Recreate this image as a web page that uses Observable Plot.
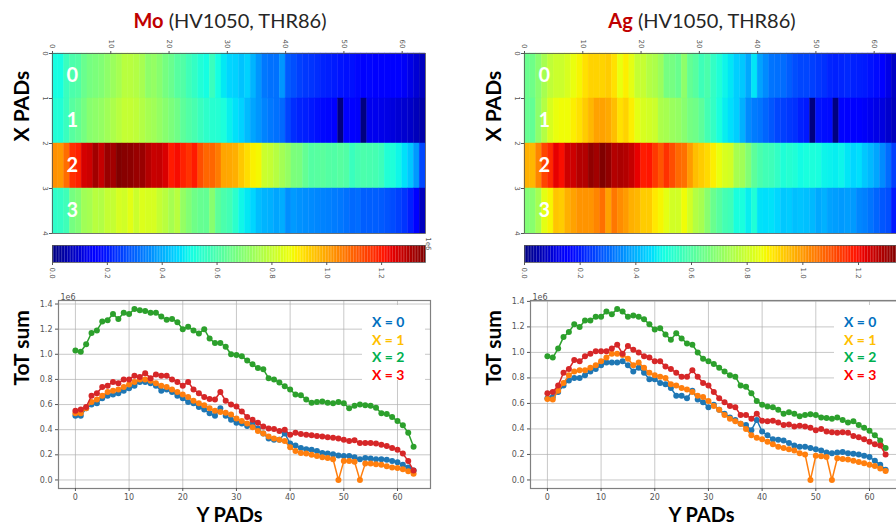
<!DOCTYPE html>
<html><head><meta charset="utf-8">
<script src="https://cdn.jsdelivr.net/npm/d3@7"></script>
<script src="https://cdn.jsdelivr.net/npm/@observablehq/plot@0.6"></script>
<style>
body{margin:0;background:#fff;font-family:Lato,"Open Sans",sans-serif;}
#root{position:relative;width:896px;height:532px;overflow:hidden;background:#fff;}
.abs{position:absolute;}
.title{font-size:20px;color:#262626;white-space:nowrap;transform:translateX(-50%);line-height:24px;}
.title b{color:#c00000;}
.legend{background:#fff;font-weight:bold;font-size:14px;line-height:17.7px;padding:8px 0 0 10px;box-sizing:border-box;}
svg{overflow:visible;}
</style></head>
<body><div id="root"></div>
<script>
// ---------- data ----------
const yPads = d3.range(64);           // Y PAD index (columns)
const xPads = [0, 1, 2, 3];           // X PAD index (rows)
const seriesLabels = ["X = 0", "X = 1", "X = 2", "X = 3"];
const lineColors = ["#1f77b4", "#ff7f0e", "#2ca02c", "#d62728"];
const legendColors = ["#0070c0", "#ffc000", "#00b050", "#ff0000"];
const yPadTicks = [0, 10, 20, 30, 40, 50, 60];
const xPadTicks = [0, 1, 2, 3, 4];
const colorbarTicks = [0, 0.2, 0.4, 0.6, 0.8, 1.0, 1.2];
const totTicks = [0, 0.2, 0.4, 0.6, 0.8, 1.0, 1.2, 1.4];

// ToT sum (units of 1e6) — Mo
const moX0 = [0.51,0.51,0.57,0.60,0.61,0.65,0.67,0.68,0.69,0.71,0.73,0.75,0.78,0.78,0.77,0.75,0.71,0.72,0.70,0.67,0.65,0.62,0.61,0.58,0.56,0.53,0.51,0.57,0.51,0.48,0.455,0.45,0.43,0.45,0.41,0.37,0.33,0.32,0.32,0.37,0.29,0.275,0.255,0.245,0.24,0.23,0.215,0.21,0.205,0.195,0.19,0.19,0.18,0.165,0.175,0.17,0.165,0.165,0.16,0.15,0.14,0.12,0.10,0.075];
const moX1 = [0.53,0.53,0.57,0.62,0.64,0.67,0.70,0.71,0.72,0.74,0.76,0.78,0.80,0.80,0.79,0.77,0.75,0.74,0.72,0.70,0.68,0.66,0.63,0.61,0.595,0.57,0.55,0.54,0.535,0.52,0.49,0.47,0.45,0.42,0.39,0.37,0.345,0.33,0.32,0.31,0.26,0.23,0.215,0.21,0.20,0.19,0.18,0.175,0.165,0.0,0.15,0.15,0.145,0.0,0.13,0.13,0.125,0.12,0.11,0.10,0.095,0.085,0.07,0.05];
const moX2 = [1.03,1.02,1.08,1.17,1.19,1.26,1.27,1.32,1.28,1.33,1.32,1.36,1.35,1.345,1.33,1.33,1.30,1.275,1.28,1.255,1.20,1.22,1.19,1.165,1.20,1.125,1.09,1.09,1.06,1.00,0.995,0.985,0.95,0.92,0.89,0.88,0.81,0.80,0.775,0.745,0.72,0.68,0.675,0.64,0.615,0.62,0.625,0.615,0.61,0.62,0.61,0.57,0.59,0.60,0.595,0.59,0.575,0.53,0.525,0.50,0.47,0.435,0.375,0.265];
const moX3 = [0.55,0.56,0.58,0.67,0.69,0.74,0.75,0.78,0.77,0.80,0.80,0.83,0.82,0.85,0.81,0.84,0.83,0.83,0.80,0.78,0.75,0.78,0.72,0.69,0.66,0.645,0.64,0.70,0.63,0.60,0.585,0.545,0.50,0.48,0.455,0.425,0.41,0.405,0.39,0.40,0.36,0.375,0.365,0.36,0.355,0.35,0.345,0.34,0.335,0.33,0.32,0.31,0.315,0.295,0.295,0.295,0.29,0.28,0.27,0.255,0.24,0.21,0.15,0.075];

// ToT sum (units of 1e6) — Ag
const agX0 = [0.64,0.65,0.69,0.74,0.78,0.80,0.80,0.82,0.85,0.87,0.90,0.92,0.92,0.92,0.93,0.90,0.85,0.88,0.84,0.79,0.79,0.76,0.75,0.72,0.66,0.66,0.64,0.70,0.63,0.61,0.57,0.59,0.55,0.52,0.49,0.47,0.44,0.43,0.39,0.47,0.38,0.35,0.32,0.315,0.31,0.29,0.27,0.26,0.26,0.25,0.24,0.23,0.215,0.21,0.215,0.22,0.21,0.205,0.20,0.19,0.18,0.15,0.12,0.08];
const agX1 = [0.635,0.63,0.70,0.76,0.82,0.85,0.86,0.86,0.88,0.90,0.93,0.96,0.99,0.99,0.98,0.95,0.90,0.92,0.88,0.84,0.82,0.81,0.80,0.75,0.74,0.72,0.71,0.69,0.66,0.65,0.62,0.58,0.55,0.51,0.48,0.46,0.44,0.40,0.35,0.33,0.32,0.30,0.28,0.26,0.25,0.24,0.23,0.21,0.20,0.0,0.19,0.185,0.18,0.0,0.17,0.165,0.16,0.15,0.14,0.13,0.12,0.11,0.09,0.07];
const agX2 = [0.97,0.96,1.03,1.12,1.16,1.22,1.20,1.25,1.25,1.28,1.28,1.32,1.30,1.34,1.32,1.28,1.29,1.28,1.26,1.22,1.18,1.19,1.14,1.10,1.15,1.11,1.07,1.06,1.00,0.95,0.93,0.91,0.88,0.85,0.82,0.81,0.74,0.73,0.68,0.62,0.59,0.575,0.57,0.55,0.52,0.53,0.52,0.50,0.51,0.515,0.51,0.49,0.485,0.48,0.49,0.47,0.45,0.46,0.43,0.41,0.385,0.35,0.31,0.25];
const agX3 = [0.68,0.69,0.74,0.84,0.87,0.94,0.93,0.97,0.99,1.01,1.01,1.01,1.03,1.06,0.99,1.05,1.02,1.00,0.97,0.96,0.93,0.93,0.89,0.87,0.84,0.81,0.81,0.86,0.81,0.76,0.74,0.69,0.64,0.61,0.58,0.57,0.51,0.51,0.48,0.52,0.465,0.46,0.465,0.45,0.43,0.435,0.42,0.425,0.42,0.41,0.39,0.40,0.38,0.375,0.37,0.375,0.37,0.345,0.335,0.32,0.30,0.28,0.27,0.20];

const panels = [
  {name: "Mo", rest: " (HV1050, THR86)", ox: 0, series: [moX0, moX1, moX2, moX3], cbExp: true},
  {name: "Ag", rest: " (HV1050, THR86)", ox: 472, series: [agX0, agX1, agX2, agX3], cbExp: false}
];

// ---------- jet colormap ----------
function jet(t) {
  t = Math.max(0, Math.min(1, t));
  const seg = (pts) => {
    for (let i = 1; i < pts.length; i++) {
      if (t <= pts[i][0]) {
        const [x0, y0] = pts[i - 1], [x1, y1] = pts[i];
        return y0 + (y1 - y0) * (t - x0) / (x1 - x0);
      }
    }
    return pts[pts.length - 1][1];
  };
  const r = seg([[0,0],[0.35,0],[0.66,1],[0.89,1],[1,0.5]]);
  const g = seg([[0,0],[0.125,0],[0.375,1],[0.64,1],[0.91,0],[1,0]]);
  const b = seg([[0,0.5],[0.11,1],[0.34,1],[0.65,0],[1,0]]);
  return `rgb(${Math.round(r*255)},${Math.round(g*255)},${Math.round(b*255)})`;
}

const root = document.getElementById("root");
function place(el, left, top) {
  el.classList.add("abs");
  el.style.left = left + "px";
  el.style.top = top + "px";
  root.appendChild(el);
  return el;
}
const tickFont = "'DejaVu Sans', sans-serif";

for (const p of panels) {
  const cells = [];
  p.series.forEach((vals, xi) => vals.forEach((v, i) => cells.push({xi, yi: yPads[i], v})));
  const vmax = d3.max(cells, d => d.v);
  const vmin = d3.min(cells, d => d.v);
  const colorOpt = {type: "linear", domain: [vmin, vmax], interpolate: jet};

  // title
  const t = document.createElement("div");
  t.className = "title";
  t.innerHTML = `<b>${p.name}</b>${p.rest}`;
  place(t, p.ox + 230, 8);

  // heatmap
  const heat = Plot.plot({
    width: 448, height: 240,
    marginLeft: 52, marginRight: 23, marginTop: 53, marginBottom: 7,
    style: {fontFamily: tickFont, background: "transparent"},
    x: {domain: [0, 64], label: null},
    y: {domain: [0, 4], reverse: true, label: null},
    color: colorOpt,
    marks: [
      Plot.rect(cells, {x1: d => d.yi, x2: d => d.yi + 1, y1: d => d.xi, y2: d => d.xi + 1,
        fill: "v", stroke: "v", strokeWidth: 0.4}),
      Plot.frame({stroke: "#555", strokeWidth: 0.8}),
      Plot.axisX({anchor: "top", ticks: yPadTicks, tickFormat: d3.format("d"), tickRotate: 90, fontSize: 7, tickSize: 3, tickPadding: 2, fill: "#555", stroke: "#555", label: null}),
      Plot.axisY({anchor: "left", ticks: xPadTicks, tickFormat: d3.format("d"), tickRotate: 90, fontSize: 7, tickSize: 3, tickPadding: 2, fill: "#555", stroke: "#555", label: null}),
      Plot.text(xPads, {frameAnchor: "left", y: d => d + 0.5, text: d => String(d), dx: 14,
        fill: "white", fontSize: 20, fontWeight: "bold", fontFamily: "Lato, sans-serif"}),
      Plot.text(["X PADs"], {frameAnchor: "left", dx: -30, dy: -2, rotate: -90, fontSize: 21,
        fontWeight: "bold", fill: "#000", fontFamily: "Lato, sans-serif"})
    ]
  });
  place(heat, p.ox, 0);

  // colorbar
  const nStops = 240;
  const stops = d3.range(nStops).map(i => vmin + (vmax - vmin) * i / nStops);
  const step = (vmax - vmin) / nStops;
  const cbMarks = [
    Plot.rect(stops, {x1: d => d, x2: d => d + step * 1.05, fill: d => d + step / 2}),
    Plot.frame({stroke: "#555", strokeWidth: 0.8}),
    Plot.axisX({ticks: colorbarTicks, tickFormat: d3.format(".1f"), tickRotate: 90, fontSize: 7,
      tickSize: 3, tickPadding: 2, fill: "#555", stroke: "#555", label: null})
  ];
  if (p.cbExp) cbMarks.push(Plot.text(["1e6"], {frameAnchor: "top-right", dx: 5, dy: 5, rotate: 90, fontSize: 7, fill: "#555"}));
  const cbar = Plot.plot({
    width: 448, height: 45,
    marginLeft: 52, marginRight: 23, marginTop: 5, marginBottom: 23,
    style: {fontFamily: tickFont, background: "transparent"},
    x: {domain: [vmin, vmax], label: null},
    color: colorOpt,
    marks: cbMarks
  });
  place(cbar, p.ox, 240);

  // line chart
  const yMax = d3.max(cells, d => d.v), yMin = d3.min(cells, d => d.v);
  const yPadM = (yMax - yMin) * 0.05;
  const xPadM = (yPads[yPads.length - 1] - yPads[0]) * 0.05;
  const marks = [
    Plot.gridX({ticks: yPadTicks, stroke: "#b0b0b0", strokeOpacity: 0.7}),
    Plot.gridY({ticks: totTicks, stroke: "#b0b0b0", strokeOpacity: 0.7}),
    Plot.frame({stroke: "#808080", strokeWidth: 1.2}),
    Plot.axisX({ticks: yPadTicks, fontSize: 8, tickSize: 3, tickPadding: 3, fill: "#555", stroke: "#555", label: null}),
    Plot.axisY({ticks: totTicks, tickFormat: d3.format(".1f"), fontSize: 8, tickSize: 3, tickPadding: 3, fill: "#555", stroke: "#555", label: null}),
    Plot.text(["1e6"], {frameAnchor: "top-left", dx: 2, dy: -6, fontSize: 8, fill: "#555"}),
    Plot.text(["ToT sum"], {frameAnchor: "left", dx: -36, dy: -9, rotate: -90, fontSize: 21,
      fontWeight: "bold", fill: "#000", fontFamily: "Lato, sans-serif"}),
    Plot.text(["Y PADs"], {frameAnchor: "bottom", dx: -15, dy: 33, fontSize: 20,
      fontWeight: "bold", fill: "#000", fontFamily: "Lato, sans-serif"})
  ];
  p.series.forEach((vals, k) => {
    const pts = vals.map((v, i) => ({y: yPads[i], v}));
    marks.push(Plot.line(pts, {x: "y", y: "v", stroke: lineColors[k], strokeWidth: 1.5}));
    marks.push(Plot.dot(pts, {x: "y", y: "v", fill: lineColors[k], r: 3, stroke: "none"}));
  });
  const line = Plot.plot({
    width: 448, height: 247,
    marginLeft: 58, marginRight: 18, marginTop: 15, marginBottom: 44,
    style: {fontFamily: tickFont, background: "transparent"},
    x: {domain: [yPads[0] - xPadM, yPads[yPads.length - 1] + xPadM], label: null},
    y: {domain: [yMin - yPadM, yMax + yPadM], label: null},
    marks
  });
  place(line, p.ox, 285);

  // legend
  const lg = document.createElement("div");
  lg.className = "legend";
  lg.style.width = "63px";
  lg.style.height = "75px";
  lg.innerHTML = seriesLabels.map((s, k) => `<div style="color:${legendColors[k]}">${s}</div>`).join("");
  place(lg, p.ox + 362, 305);
}
</script>
</body></html>
